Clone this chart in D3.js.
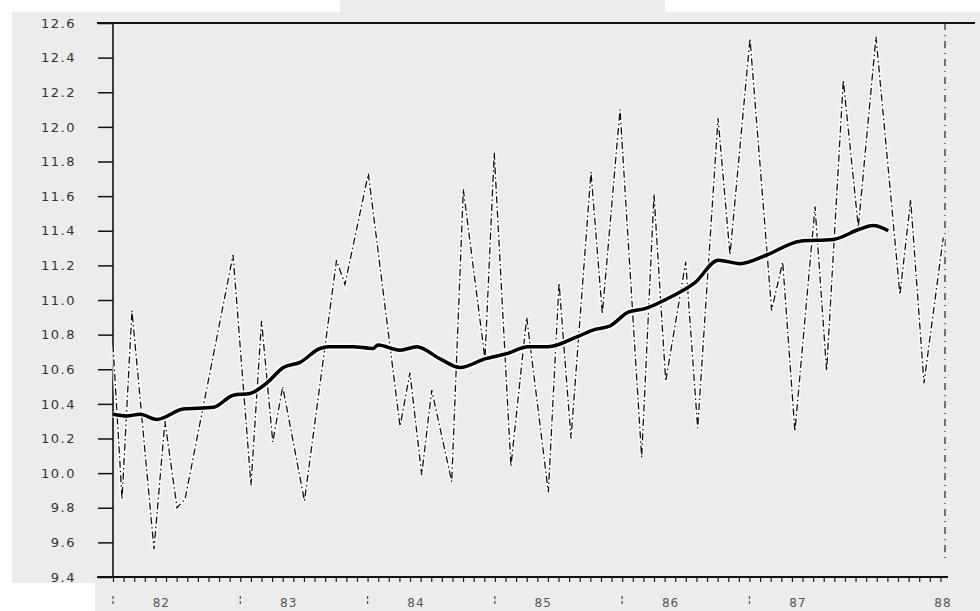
<!DOCTYPE html>
<html>
<head>
<meta charset="utf-8">
<script src="https://cdn.jsdelivr.net/npm/d3@7"></script>
<style>
  body { margin: 0; background: #fff; }
  svg { display: block; }
  .tick text { font-family: "DejaVu Sans", sans-serif; }
</style>
</head>
<body>
<div id="container"></div>
<script>
// ----------------------------- DATA ------------------------------ //
// monthly series turning points, x in decimal years
const rawYears = [1982.000, 1982.071, 1982.149, 1982.322, 1982.408, 1982.503, 1982.566, 1982.943,
    1983.084, 1983.167, 1983.255, 1983.333, 1983.504, 1983.756, 1983.822, 1984.006,
    1984.255, 1984.333, 1984.425, 1984.504, 1984.661, 1984.752, 1984.922, 1984.995,
    1985.126, 1985.250, 1985.420, 1985.504, 1985.598, 1985.755, 1985.844, 1985.983,
    1986.153, 1986.250, 1986.342, 1986.499, 1986.593, 1986.753, 1986.847, 1987.004,
    1987.174, 1987.261, 1987.357, 1987.515, 1987.606, 1987.737, 1987.855, 1987.994,
    1988.182, 1988.266, 1988.371, 1988.522];
const rawValues = [10.74, 9.85, 10.94, 9.56, 10.30, 9.80, 9.85, 11.26,
    9.93, 10.88, 10.18, 10.50, 9.84, 11.23, 11.09, 11.73,
    10.27, 10.58, 9.99, 10.48, 9.95, 11.64, 10.66, 11.85,
    10.04, 10.90, 9.89, 11.10, 10.20, 11.74, 10.92, 12.10,
    10.09, 11.61, 10.53, 11.22, 10.26, 12.05, 11.26, 12.51,
    10.94, 11.22, 10.24, 11.54, 10.59, 12.27, 11.42, 12.52,
    11.03, 11.58, 10.52, 11.36];

// smoothed trend
const trendYears = [1982.000, 1982.108, 1982.212, 1982.343, 1982.552, 1982.788, 1982.945,
    1983.076, 1983.207, 1983.338, 1983.469, 1983.626, 1983.691, 1983.885,
    1984.042, 1984.082, 1984.255, 1984.386, 1984.569, 1984.726, 1984.922,
    1985.093, 1985.262, 1985.417, 1985.653, 1985.786, 1985.904, 1986.048,
    1986.179, 1986.389, 1986.572, 1986.755, 1986.925, 1987.135, 1987.397,
    1987.658, 1987.868, 1987.972, 1988.090];
const trendValues = [10.34, 10.33, 10.34, 10.31, 10.37, 10.38, 10.45,
    10.46, 10.52, 10.61, 10.64, 10.72, 10.73, 10.73,
    10.72, 10.74, 10.71, 10.73, 10.66, 10.61, 10.66,
    10.69, 10.73, 10.73, 10.79, 10.83, 10.85, 10.93,
    10.95, 11.02, 11.10, 11.23, 11.21, 11.26, 11.34,
    11.35, 11.41, 11.43, 11.40];

const yTicks = [9.4, 9.6, 9.8, 10.0, 10.2, 10.4, 10.6, 10.8, 11.0, 11.2, 11.4, 11.6, 11.8, 12.0, 12.2, 12.4, 12.6];
const yearStarts = [1982, 1983, 1984, 1985, 1986, 1987];
const yearLabels = ["82", "83", "84", "85", "86", "87", "88"];

// ---------------------------- SETUP ------------------------------ //
const width = 980;
const height = 611;
const plotLeft = 113, plotRight = 945, plotTop = 23, plotBottom = 577;

const svg = d3.select("#container").append("svg")
    .attr("width", width)
    .attr("height", height);

// scanned-paper background
svg.append("rect").attr("x", 12).attr("y", 12).attr("width", width - 12).attr("height", 571).attr("fill", "#ececec");
svg.append("rect").attr("x", 95).attr("y", 583).attr("width", width - 95).attr("height", 28).attr("fill", "#ececec");
svg.append("rect").attr("x", 340).attr("y", 0).attr("width", 325).attr("height", 12).attr("fill", "#ececec");

// ---------------------------- SCALES ----------------------------- //
const xScale = d3.scaleLinear().domain([1982, 1988.536]).range([plotLeft, plotRight]);
const yScale = d3.scaleLinear().domain([9.4, 12.6]).range([plotBottom, plotTop]);

// ----------------------------- AXES ------------------------------ //
const yaxis = d3.axisLeft(yScale)
    .tickValues(yTicks)
    .tickSize(15)
    .tickPadding(22)
    .tickFormat(d3.format(".1f"));

const gy = svg.append("g")
    .attr("transform", "translate(" + plotLeft + ",0)")
    .call(yaxis);
gy.select(".domain").remove();
gy.selectAll(".tick line").attr("stroke", "#111").attr("stroke-width", 1.5);
gy.selectAll(".tick text")
    .attr("font-size", 13)
    .attr("fill", "#333")
    .style("letter-spacing", "1.5px");

// monthly ticks along the bottom
const months = d3.range(0, 6 * 12 + 7).map(function (m) { return 1982 + m / 12; });
const xaxis = d3.axisBottom(xScale)
    .tickValues(months)
    .tickSize(5)
    .tickFormat("");
const gx = svg.append("g")
    .attr("transform", "translate(0," + plotBottom + ")")
    .call(xaxis);
gx.select(".domain").remove();
gx.selectAll(".tick line").attr("stroke", "#222").attr("stroke-width", 1.2);

// frame lines
svg.append("line")
    .attr("x1", 97).attr("x2", 948).attr("y1", plotBottom).attr("y2", plotBottom)
    .attr("stroke", "#111").attr("stroke-width", 2);
svg.append("line")
    .attr("x1", 97).attr("x2", 975).attr("y1", plotTop).attr("y2", plotTop)
    .attr("stroke", "#111").attr("stroke-width", 2);
svg.append("line")
    .attr("x1", plotLeft).attr("x2", plotLeft).attr("y1", plotTop).attr("y2", plotBottom)
    .attr("stroke", "#111").attr("stroke-width", 1.6);
svg.append("line")
    .attr("x1", plotRight).attr("x2", plotRight).attr("y1", plotTop).attr("y2", 560)
    .attr("stroke", "#222").attr("stroke-width", 1.2)
    .attr("stroke-dasharray", "7,5,1,5");

// year separators and labels
svg.selectAll(".sep")
    .data(yearStarts)
    .enter().append("line")
    .attr("x1", function (d) { return xScale(d); })
    .attr("x2", function (d) { return xScale(d); })
    .attr("y1", 596).attr("y2", 606)
    .attr("stroke", "#555").attr("stroke-width", 1.3)
    .attr("stroke-dasharray", "3,2");

svg.selectAll(".yr")
    .data(yearLabels)
    .enter().append("text")
    .attr("x", function (d, i) { return i < 6 ? xScale(1982 + i + 0.38) : xScale(1988.536) - 2; })
    .attr("y", 607)
    .attr("text-anchor", "middle")
    .attr("font-family", "DejaVu Sans, sans-serif")
    .attr("font-size", 12)
    .attr("fill", "#555")
    .style("letter-spacing", "1px")
    .text(function (d) { return d; });

// ----------------------------- LINES ----------------------------- //
const rawData = rawYears.map(function (y, i) { return { x: y, v: rawValues[i] }; });
const trendData = trendYears.map(function (y, i) { return { x: y, v: trendValues[i] }; });

const line = d3.line()
    .x(function (d) { return xScale(d.x); })
    .y(function (d) { return yScale(d.v); });

// white halo like the scan
svg.append("path")
    .attr("d", line(rawData))
    .attr("fill", "none")
    .attr("stroke", "#fff")
    .attr("stroke-width", 4)
    .attr("stroke-opacity", 0.8);

svg.append("path")
    .attr("d", line(rawData))
    .attr("fill", "none")
    .attr("stroke", "#111")
    .attr("stroke-width", 1.3)
    .attr("stroke-dasharray", "7,3,1.5,3");

const smooth = d3.line()
    .curve(d3.curveMonotoneX)
    .x(function (d) { return xScale(d.x); })
    .y(function (d) { return yScale(d.v); });

svg.append("path")
    .attr("d", smooth(trendData))
    .attr("fill", "none")
    .attr("stroke", "#fff")
    .attr("stroke-width", 7)
    .attr("stroke-opacity", 0.8);

svg.append("path")
    .attr("d", smooth(trendData))
    .attr("fill", "none")
    .attr("stroke", "#000")
    .attr("stroke-width", 3.5)
    .attr("stroke-linejoin", "round");
</script>
</body>
</html>
